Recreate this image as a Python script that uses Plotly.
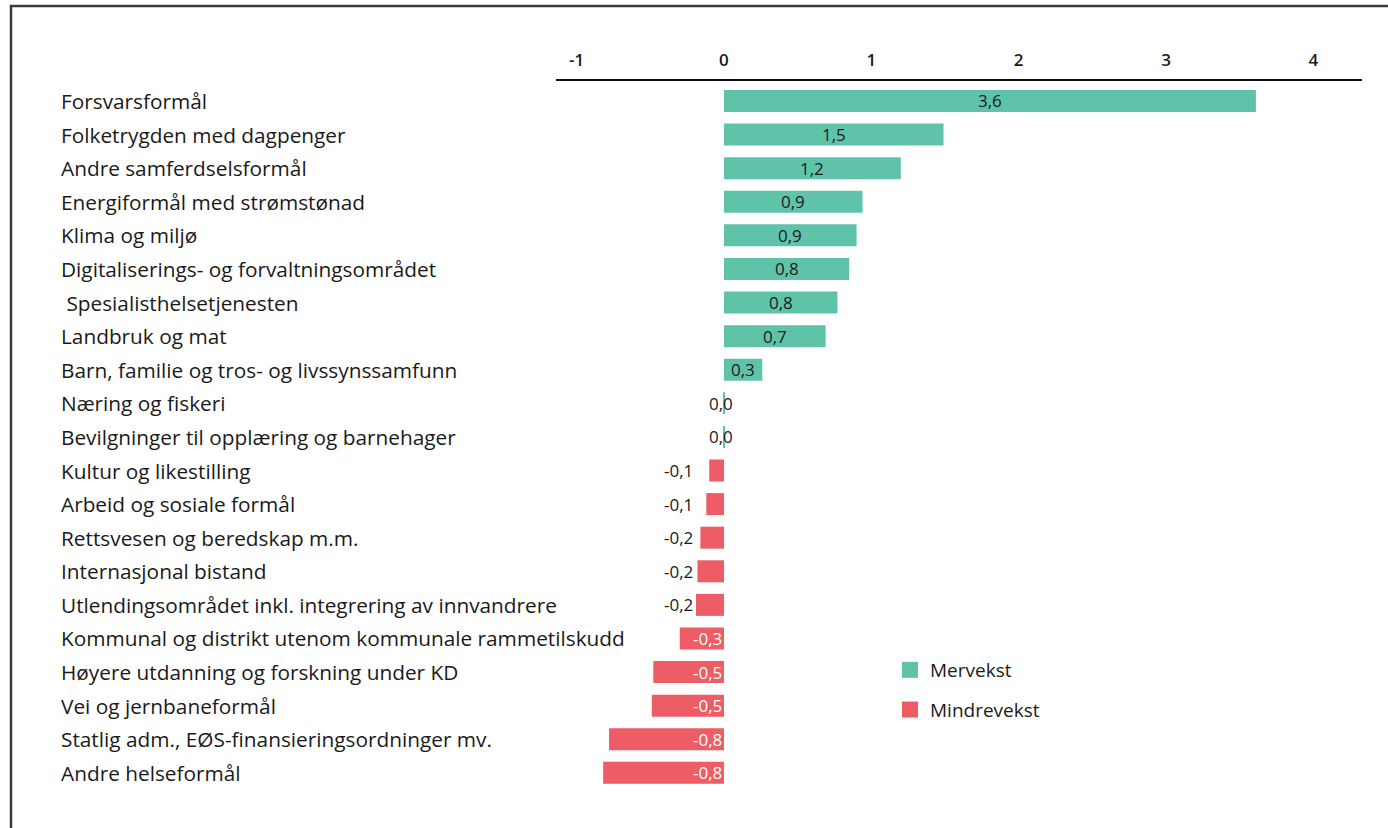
import plotly.graph_objects as go

# Budget areas (top to bottom) and change in spending, percentage points
categories = [
    "Forsvarsformål",
    "Folketrygden med dagpenger",
    "Andre samferdselsformål",
    "Energiformål med strømstønad",
    "Klima og miljø",
    "Digitaliserings- og forvaltningsområdet",
    " Spesialisthelsetjenesten",
    "Landbruk og mat",
    "Barn, familie og tros- og livssynssamfunn",
    "Næring og fiskeri",
    "Bevilgninger til opplæring og barnehager",
    "Kultur og likestilling",
    "Arbeid og sosiale formål",
    "Rettsvesen og beredskap m.m.",
    "Internasjonal bistand",
    "Utlendingsområdet inkl. integrering av innvandrere",
    "Kommunal og distrikt utenom kommunale rammetilskudd",
    "Høyere utdanning og forskning under KD",
    "Vei og jernbaneformål",
    "Statlig adm., EØS-finansieringsordninger mv.",
    "Andre helseformål",
]
values = [3.61, 1.49, 1.20, 0.94, 0.90, 0.85, 0.77, 0.69, 0.26, 0.004, 0.004,
          -0.10, -0.12, -0.16, -0.18, -0.19, -0.30, -0.48, -0.49, -0.78, -0.82]

tick_values = [-1, 0, 1, 2, 3, 4]
series_names = ["Mervekst", "Mindrevekst"]

GREEN = "#5fc3aa"
RED = "#ee5c66"
TEXT = "#1a1a1a"
FONT = "Open Sans"

# Layout geometry in pixels
W, H = 1388, 828
L, R, T, B = 556, 26, 81, 35
PW, PH = W - L - R, H - T - B


def px_x(p):
    return (p - L) / PW


def px_y(p):
    return (H - B - p) / PH


rows = list(range(len(categories)))
pos_y = [i for i, v in zip(rows, values) if v >= 0]
pos_x = [v for v in values if v >= 0]
neg_y = [i for i, v in zip(rows, values) if v < 0]
neg_x = [v for v in values if v < 0]

fig = go.Figure()
fig.add_trace(go.Bar(x=pos_x, y=pos_y, orientation="h", marker_color=GREEN,
                     marker_line_width=0, showlegend=False, hoverinfo="x+y"))
fig.add_trace(go.Bar(x=neg_x, y=neg_y, orientation="h", marker_color=RED,
                     marker_line_width=0, showlegend=False, hoverinfo="x+y"))

# Legend entries with larger square swatches
for name, col in zip(series_names, [GREEN, RED]):
    fig.add_trace(go.Scatter(x=[None], y=[None], mode="markers", name=name,
                             legendgroup=name,
                             marker=dict(symbol="square", size=16, color=col)))

annotations = []
# Category labels, left aligned
for i, cat in zip(rows, categories):
    annotations.append(dict(x=px_x(59), xref="paper", y=i, yref="y", text=cat,
                            showarrow=False, xanchor="left", yanchor="middle",
                            font=dict(family=FONT, size=20.8, color=TEXT, weight=500)))


def fmt(v):
    return f"{v:.1f}".replace(".", ",")


# Value labels placed relative to each bar
for i, v in zip(rows, values):
    lab = fmt(v)
    if v >= 0.05:
        a = dict(x=v / 2, xanchor="center", xshift=0, color=TEXT)
    elif v >= 0:
        a = dict(x=0, xanchor="center", xshift=-3, color=TEXT)
    elif v > -0.25:
        a = dict(x=min(v, -0.2), xanchor="right", xshift=0, color=TEXT)
    else:
        a = dict(x=0, xanchor="right", xshift=0, color="white")
    annotations.append(dict(x=a["x"], xref="x", y=i, yref="y", text=lab,
                            showarrow=False, xanchor=a["xanchor"], yanchor="middle",
                            xshift=a["xshift"],
                            font=dict(family=FONT, size=17, color=a["color"], weight=500)))

# Frame along the left and top edges of the figure
shapes = [dict(type="path", xref="paper", yref="paper",
               path=f"M {px_x(11)},{px_y(H + 5)} L {px_x(11)},{px_y(6)} L {px_x(W + 5)},{px_y(6)}",
               line=dict(color="#3a3a3a", width=2.5))]

fig.update_layout(
    width=W, height=H,
    margin=dict(l=L, r=R, t=T, b=B, pad=0),
    paper_bgcolor="white", plot_bgcolor="white",
    bargap=0.345,
    barmode="overlay",
    font=dict(family=FONT, size=17, color=TEXT),
    xaxis=dict(side="top", range=[-1.14, 4.33], tickvals=tick_values,
               ticktext=[str(t) for t in tick_values], showgrid=False,
               zeroline=False, showline=True, linecolor="#111", linewidth=2,
               ticks="", ticklabelstandoff=6,
               tickfont=dict(family=FONT, size=17, color=TEXT, weight=600),
               fixedrange=True),
    yaxis=dict(range=[20.6, -0.595], showticklabels=False, showgrid=False,
               zeroline=False, showline=False, ticks="", fixedrange=True),
    legend=dict(x=px_x(890), y=px_y(651), xanchor="left", yanchor="top",
                bgcolor="rgba(0,0,0,0)", tracegroupgap=12,
                font=dict(family=FONT, size=19, color=TEXT, weight=500)),
    annotations=annotations,
    shapes=shapes,
)

fig.write_html("out.html")
